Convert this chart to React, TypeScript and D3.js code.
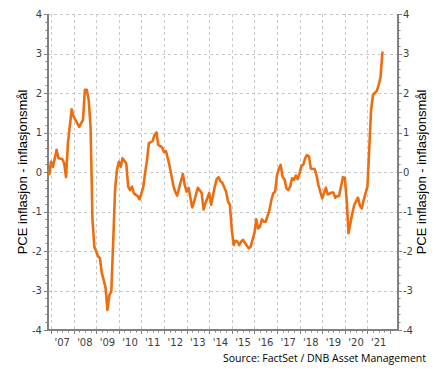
import React, { useEffect, useRef } from 'react';
import * as d3 from 'd3';

// months counted from Jan 2007 (0 = Jan 2007), value = PCE inflation minus target
const months = [
  -1, 0, 1, 3, 4, 6, 7, 8, 9, 11, 12, 14, 15, 17, 18, 19, 20, 21, 22, 23,
  25, 26, 27, 28, 29, 30, 31, 32, 33, 34, 35, 36, 37, 38, 40, 41, 42, 43, 44, 46,
  47, 48, 49, 50, 51, 52, 54, 55, 56, 57, 58, 59, 60, 61, 62, 63, 64, 65, 66, 67,
  68, 70, 71, 72, 73, 75, 76, 78, 80, 81, 82, 84, 85, 87, 88, 89, 90, 91, 93, 94,
  95, 96, 97, 98, 99, 100, 101, 102, 103, 105, 106, 107, 108, 109, 110, 111, 112, 113, 114, 116,
  117, 118, 119, 120, 121, 122, 123, 124, 125, 126, 127, 128, 129, 130, 131, 132, 133, 134, 135, 136,
  137, 138, 140, 141, 142, 144, 145, 146, 147, 149, 150, 151, 152, 153, 155, 156, 157, 158, 159, 160,
  161, 163, 164, 165, 166, 167, 168, 169, 170, 171, 172, 173, 174, 175, 176, 177,
];
const values = [
  -0.08, 0.26, 0.13, 0.56, 0.35, 0.33, 0.22, -0.13, 0.73, 1.59, 1.4, 1.23, 1.14, 1.32, 2.08, 2.08, 1.82, 1.15, -1.21, -1.89,
  -2.14, -2.18, -2.56, -2.73, -2.94, -3.49, -3.11, -3.03, -1.8, -0.46, 0.05, 0.26, 0.13, 0.35, 0.22, -0.37, -0.46, -0.37, -0.54, -0.61,
  -0.69, -0.54, -0.37, -0.03, 0.3, 0.73, 0.78, 0.94, 1.0, 0.68, 0.66, 0.62, 0.51, 0.53, 0.35, 0.15, -0.1, -0.35, -0.5, -0.6,
  -0.4, -0.05, -0.33, -0.5, -0.4, -0.9, -0.75, -0.4, -0.53, -0.95, -0.79, -0.53, -0.83, -0.37, -0.18, -0.13, -0.24, -0.27, -0.5, -0.75,
  -0.84, -1.47, -1.85, -1.74, -1.76, -1.85, -1.76, -1.72, -1.8, -1.93, -1.89, -1.72, -1.55, -1.2, -1.43, -1.38, -1.2, -1.26, -1.26, -0.96,
  -0.71, -0.54, -0.5, -0.08, 0.09, 0.18, -0.13, -0.18, -0.41, -0.46, -0.37, -0.16, -0.2, -0.09, -0.18, -0.03, 0.16, 0.18, 0.35, 0.43,
  0.39, 0.09, 0.07, -0.08, -0.33, -0.67, -0.52, -0.4, -0.57, -0.52, -0.52, -0.65, -0.61, -0.61, -0.13, -0.15, -0.71, -1.55, -1.3,
  -1.05, -0.84, -0.65, -0.85, -0.92, -0.71, -0.54, -0.37, 0.64, 1.57, 1.95, 2.0, 2.05, 2.2, 2.4, 3.05,
];
const years = d3.range(2007, 2022);
const yearLabels = ["'07", "'08", "'09", "'10", "'11", "'12", "'13", "'14", "'15", "'16", "'17", "'18", "'19", "'20", "'21"];
const yTicks = [-4, -3, -2, -1, 0, 1, 2, 3, 4];
const axisTitle = 'PCE inflasjon - inflasjonsmål';
const source = 'Source: FactSet / DNB Asset Management';

const App = () => {
  const svgRef = useRef<SVGSVGElement>(null);

  useEffect(() => {
    const width = 435;
    const height = 372;
    const margin = { top: 14, right: 37, bottom: 42, left: 48 };

    const svg = d3.select(svgRef.current)
      .attr('width', width)
      .attr('height', height);
    svg.selectAll('*').remove();

    const data = months.map((m, i) => ({ date: new Date(2007, m, 1), value: values[i] }));

    const x = d3.scaleTime()
      .domain([new Date(2006, 10, 13), new Date(2022, 4, 10)])
      .range([margin.left, width - margin.right]);
    const y = d3.scaleLinear()
      .domain([-4, 4])
      .range([height - margin.bottom, margin.top]);

    const x0 = margin.left;
    const x1 = width - margin.right;
    const y0 = height - margin.bottom;

    // grid
    const grid = svg.append('g')
      .attr('stroke', '#c8c8c8')
      .attr('stroke-width', 1)
      .attr('stroke-dasharray', '3,3');
    grid.selectAll('.hg')
      .data(yTicks.filter(t => t > -4))
      .enter()
      .append('line')
      .attr('x1', x0).attr('x2', x1)
      .attr('y1', d => Math.round(y(d)) + 0.5).attr('y2', d => Math.round(y(d)) + 0.5);
    grid.selectAll('.vg')
      .data(years)
      .enter()
      .append('line')
      .attr('x1', d => Math.round(x(new Date(d, 0, 1))) + 0.5)
      .attr('x2', d => Math.round(x(new Date(d, 0, 1))) + 0.5)
      .attr('y1', margin.top).attr('y2', y0);

    // minor / major ticks
    const minor = d3.range(-4, 4.001, 0.2);
    const ticks = svg.append('g').attr('stroke', '#808080').attr('stroke-width', 1);
    minor.forEach(v => {
      const major = Math.abs(v - Math.round(v)) < 1e-6;
      const len = major ? 4 : 2.5;
      const yy = Math.round(y(v)) + 0.5;
      ticks.append('line').attr('x1', x0 - len).attr('x2', x0).attr('y1', yy).attr('y2', yy);
      ticks.append('line').attr('x1', x1).attr('x2', x1 + len).attr('y1', yy).attr('y2', yy);
    });
    const quarters = d3.timeMonth.every(3)!.range(new Date(2007, 0, 1), new Date(2022, 1, 1));
    quarters.forEach(q => {
      const major = q.getMonth() === 0;
      const xx = Math.round(x(q)) + 0.5;
      ticks.append('line').attr('x1', xx).attr('x2', xx).attr('y1', y0).attr('y2', y0 + (major ? 4 : 2.5));
    });

    // axis lines
    const axes = svg.append('g').attr('stroke', '#808080').attr('stroke-width', 2);
    axes.append('line').attr('x1', x0).attr('x2', x0).attr('y1', margin.top).attr('y2', y0 + 1);
    axes.append('line').attr('x1', x1).attr('x2', x1).attr('y1', margin.top).attr('y2', y0 + 1);
    axes.append('line').attr('x1', x0).attr('x2', x1).attr('y1', y0).attr('y2', y0);

    // tick labels
    const font = 'Tahoma, "DejaVu Sans", sans-serif';
    svg.selectAll('.yl')
      .data(yTicks)
      .enter()
      .append('text')
      .attr('x', x0 - 6)
      .attr('y', d => y(d) + 3.5)
      .attr('text-anchor', 'end')
      .attr('font-family', font)
      .attr('font-size', 10)
      .attr('fill', '#404040')
      .text(d => d);
    svg.selectAll('.yr')
      .data(yTicks)
      .enter()
      .append('text')
      .attr('x', x1 + 5)
      .attr('y', d => y(d) + 3.5)
      .attr('text-anchor', 'start')
      .attr('font-family', font)
      .attr('font-size', 10)
      .attr('fill', '#404040')
      .text(d => d);
    svg.selectAll('.xl')
      .data(years)
      .enter()
      .append('text')
      .attr('x', d => x(new Date(d, 6, 1)))
      .attr('y', y0 + 16)
      .attr('text-anchor', 'middle')
      .attr('font-family', font)
      .attr('font-size', 10)
      .attr('fill', '#404040')
      .text((d, i) => yearLabels[i]);

    // axis titles
    svg.append('text')
      .attr('transform', `translate(27, ${(margin.top + y0) / 2}) rotate(-90)`)
      .attr('text-anchor', 'middle')
      .attr('font-family', '"Liberation Sans", Arial, sans-serif')
      .attr('font-size', 13)
      .attr('fill', '#000')
      .text(axisTitle);
    svg.append('text')
      .attr('transform', `translate(426, ${(margin.top + y0) / 2}) rotate(-90)`)
      .attr('text-anchor', 'middle')
      .attr('font-family', '"Liberation Sans", Arial, sans-serif')
      .attr('font-size', 13)
      .attr('fill', '#000')
      .text(axisTitle);

    // series
    const line = d3.line<{ date: Date; value: number }>()
      .x(d => x(d.date))
      .y(d => y(d.value));
    svg.append('path')
      .datum(data)
      .attr('fill', 'none')
      .attr('stroke', '#ED6E10')
      .attr('stroke-width', 2.6)
      .attr('stroke-linejoin', 'round')
      .attr('d', line);

    // source
    svg.append('text')
      .attr('x', 426)
      .attr('y', 362)
      .attr('text-anchor', 'end')
      .attr('font-family', '"Open Sans", sans-serif')
      .attr('font-size', 10.5)
      .attr('fill', '#000')
      .text(source);
  }, []);

  return <svg ref={svgRef} style={{ position: 'absolute', left: 0, top: 0 }}></svg>;
};

export default App;
